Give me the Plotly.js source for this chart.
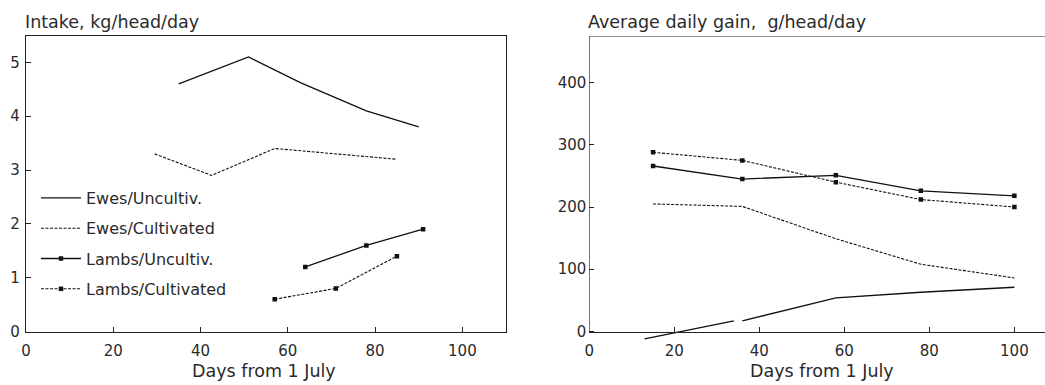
<!DOCTYPE html>
<html>
<head>
<meta charset="utf-8">
<script src="https://cdn.plot.ly/plotly-3.0.1.min.js"></script>
<style>html,body{margin:0;padding:0;background:#fff;}#chart{width:1045px;height:385px;}</style>
</head>
<body>
<div id="chart"></div>
<script>
// ---- Data ----
const seriesNames = ["Ewes/Uncultiv.", "Ewes/Cultivated", "Lambs/Uncultiv.", "Lambs/Cultivated"];

// Left panel: Intake, kg/head/day
const intakeEwesUncultDays = [35, 51, 63, 78, 90];
const intakeEwesUncult     = [4.6, 5.1, 4.62, 4.1, 3.8];
const intakeEwesCultDays   = [29.5, 42.5, 57, 85];
const intakeEwesCult       = [3.3, 2.9, 3.4, 3.2];
const intakeLambsUncultDays = [64, 78, 91];
const intakeLambsUncult     = [1.2, 1.6, 1.9];
const intakeLambsCultDays   = [57, 71, 85];
const intakeLambsCult       = [0.6, 0.8, 1.4];

// Right panel: Average daily gain, g/head/day
const gainEwesUncultDays = [13, 34, null, 36, 58, 78, 100];
const gainEwesUncult     = [-12, 17, null, 17, 54, 63, 71];
const gainDays           = [15, 36, 58, 78, 100];
const gainEwesCult       = [205, 201, 149, 108, 86];
const gainLambsUncult    = [266, 245, 251, 226, 218];
const gainLambsCult      = [288, 275, 240, 212, 200];

const xTicks = [0, 20, 40, 60, 80, 100];
const intakeTicks = [0, 1, 2, 3, 4, 5];
const gainTicks = [0, 100, 200, 300, 400];

// ---- Styling ----
const FONT = "DejaVu Sans, Liberation Sans, sans-serif";
const INK = "#111";
const TXT = "#2a2a2a";
const DASH = "3px,1.5px";
const styles = [
  {line: {color: INK, width: 1.3, dash: "solid"}, mode: "lines"},
  {line: {color: INK, width: 1.1, dash: DASH}, mode: "lines"},
  {line: {color: INK, width: 1.3, dash: "solid"}, mode: "lines+markers", marker: {symbol: "square", size: 4.5, color: INK}},
  {line: {color: INK, width: 1.1, dash: DASH}, mode: "lines+markers", marker: {symbol: "square", size: 4.5, color: INK}}
];

function tr(i, x, y, xa, ya, legend) {
  return Object.assign({
    type: "scatter", x: x, y: y, name: seriesNames[i],
    xaxis: xa, yaxis: ya, showlegend: legend, legendgroup: "g" + i,
    connectgaps: false, hoverinfo: "skip"
  }, JSON.parse(JSON.stringify(styles[i])));
}

const data = [
  tr(0, intakeEwesUncultDays, intakeEwesUncult, "x", "y", true),
  tr(1, intakeEwesCultDays, intakeEwesCult, "x", "y", true),
  tr(2, intakeLambsUncultDays, intakeLambsUncult, "x", "y", true),
  tr(3, intakeLambsCultDays, intakeLambsCult, "x", "y", true),
  tr(0, gainEwesUncultDays, gainEwesUncult, "x2", "y2", false),
  tr(1, gainDays, gainEwesCult, "x2", "y2", false),
  tr(2, gainDays, gainLambsUncult, "x2", "y2", false),
  tr(3, gainDays, gainLambsCult, "x2", "y2", false)
];

const W = 1045, H = 385, T = 36, B = 43;
const PH = H - T - B; // plot height in px
const zeroPx = 331.5;  // pixel row of value 0 in both panels
const zeroFrac = (H - B - zeroPx) / PH;
const AXC = "#222";
const tickFont = {family: FONT, size: 15, color: TXT};
const titleFont = {family: FONT, size: 17.5, color: TXT};
const xTitleY = (H - B - 371) / PH;

const commonAx = {
  showgrid: false, zeroline: false, ticks: "inside", ticklen: 5, tickwidth: 1,
  tickcolor: AXC, tickfont: tickFont, linecolor: AXC, linewidth: 1.2, fixedrange: true
};

const layout = {
  width: W, height: H,
  margin: {l: 0, r: 0, t: T, b: B, pad: 0},
  paper_bgcolor: "#fff", plot_bgcolor: "rgba(0,0,0,0)",
  font: {family: FONT, color: TXT},
  showlegend: true,
  legend: {
    x: 36 / W, y: (H - B - 181) / PH, xanchor: "left", yanchor: "top",
    font: {family: FONT, size: 16, color: TXT},
    bgcolor: "rgba(0,0,0,0)", borderwidth: 0,
    traceorder: "grouped", tracegroupgap: 6.5, itemwidth: 40
  },
  xaxis: Object.assign({}, commonAx, {
    domain: [26 / W, 506 / W], range: [0, 110], anchor: "y",
    tickvals: xTicks, showline: true, mirror: true, ticklabelstandoff: 5
  }),
  yaxis: Object.assign({}, commonAx, {
    domain: [zeroFrac, 1], range: [0, 5.49], anchor: "x",
    tickvals: intakeTicks, showline: true, mirror: true, ticklabelstandoff: 2
  }),
  xaxis2: Object.assign({}, commonAx, {
    domain: [589.3 / W, 1], range: [0, 107.2], anchor: "free", position: zeroFrac,
    tickvals: xTicks, showline: true, mirror: false, ticklabelstandoff: 5
  }),
  yaxis2: Object.assign({}, commonAx, {
    domain: [0, 1], range: [-17, 475], anchor: "x2",
    tickvals: gainTicks, showline: false, ticklabelstandoff: 2
  }),
  shapes: [
    {type: "line", xref: "x2", yref: "y2", x0: 0, x1: 0, y0: 0, y1: 475, line: {color: AXC, width: 1.2}},
    {type: "line", xref: "x2", yref: "y2", x0: 0, x1: 107.2, y0: 475, y1: 475, line: {color: AXC, width: 1.2}}
  ],
  annotations: [
    {text: "Intake, kg/head/day", xref: "paper", yref: "paper", x: 23 / W, y: (H - B - 22) / PH,
     xanchor: "left", yanchor: "middle", showarrow: false, font: titleFont},
    {text: "Average daily gain,  g/head/day", xref: "paper", yref: "paper", x: 586 / W, y: (H - B - 22) / PH,
     xanchor: "left", yanchor: "middle", showarrow: false, font: titleFont},
    {text: "Days from 1 July", xref: "paper", yref: "paper", x: 264 / W, y: xTitleY,
     xanchor: "center", yanchor: "middle", showarrow: false, font: titleFont, borderpad: 0},
    {text: "Days from 1 July", xref: "paper", yref: "paper", x: 822 / W, y: xTitleY,
     xanchor: "center", yanchor: "middle", showarrow: false, font: titleFont, borderpad: 0}
  ]
};

Plotly.newPlot("chart", data, layout, {displayModeBar: false, staticPlot: true});
</script>
</body>
</html>
